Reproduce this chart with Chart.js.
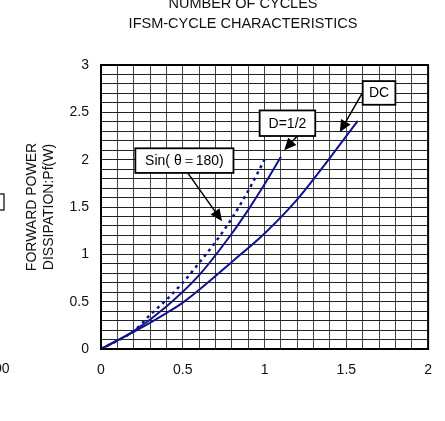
<!DOCTYPE html>
<html>
<head>
<meta charset="utf-8">
<script src="https://cdn.jsdelivr.net/npm/chart.js@4"></script>
<style>
html,body{margin:0;padding:0;background:#fff;}
#wrap{width:445px;height:421px;position:relative;}
</style>
</head>
<body>
<div id="wrap"><canvas id="c" width="445" height="421"></canvas></div>
<script>
// ---- data ----
const titleLines = ["NUMBER OF CYCLES", "IFSM-CYCLE CHARACTERISTICS"];
const yLabelLines = ["FORWARD POWER", "DISSIPATION:Pf(W)"];
const xTickLabels = ["0", "0.5", "1", "1.5", "2"];
const yTickLabels = ["0", "0.5", "1", "1.5", "2", "2.5", "3"];

const dcX = [0, 0.2, 0.4, 0.5, 0.8, 1.0, 1.2, 1.4, 1.57];
const dcY = [0, 0.18, 0.38, 0.49, 0.92, 1.22, 1.58, 2.02, 2.41];

const halfX = [0, 0.2, 0.4, 0.6, 0.8, 0.9, 1.0, 1.1];
const halfY = [0, 0.19, 0.45, 0.78, 1.22, 1.47, 1.74, 2.03];

const sinX = [0, 0.2, 0.3, 0.4, 0.5, 0.6, 0.7, 0.8, 0.9, 1.0];
const sinY = [0, 0.19, 0.36, 0.52, 0.70, 0.91, 1.13, 1.38, 1.67, 2.0];

// annotation labels: text, box corners (data units), arrow from/to (data units)
const notes = [
  { text: "Sin( θ＝180)", x1: 0.21, y1: 2.12, x2: 0.81, y2: 1.86, ax: 0.53, ay: 1.86, bx: 0.74, by: 1.35 },
  { text: "D=1/2",       x1: 0.97, y1: 2.52, x2: 1.31, y2: 2.25, ax: 1.20, ay: 2.25, bx: 1.12, by: 2.10 },
  { text: "DC",          x1: 1.60, y1: 2.83, x2: 1.80, y2: 2.58, ax: 1.60, ay: 2.71, bx: 1.46, by: 2.29 }
];

const pts = (xs, ys) => xs.map((x, i) => ({ x: x, y: ys[i] }));
const FONT = "'Liberation Sans', Arial, sans-serif";
const NAVY = "#10148c";

const decor = {
  id: "decor",
  afterDatasetsDraw(chart) {
    const { ctx, scales: { x, y } } = chart;
    ctx.save();
    notes.forEach(n => {
      const ax = x.getPixelForValue(n.ax), ay = y.getPixelForValue(n.ay);
      const bx = x.getPixelForValue(n.bx), by = y.getPixelForValue(n.by);
      const ang = Math.atan2(by - ay, bx - ax);
      const hl = 12, hw = 5.5;
      ctx.strokeStyle = "#000"; ctx.lineWidth = 1.5;
      ctx.beginPath();
      ctx.moveTo(ax, ay);
      ctx.lineTo(bx - Math.cos(ang) * hl * 0.8, by - Math.sin(ang) * hl * 0.8);
      ctx.stroke();
      ctx.fillStyle = "#000";
      ctx.beginPath();
      ctx.moveTo(bx, by);
      ctx.lineTo(bx - Math.cos(ang) * hl - Math.sin(ang) * hw, by - Math.sin(ang) * hl + Math.cos(ang) * hw);
      ctx.lineTo(bx - Math.cos(ang) * hl + Math.sin(ang) * hw, by - Math.sin(ang) * hl - Math.cos(ang) * hw);
      ctx.closePath();
      ctx.fill();
      const px1 = x.getPixelForValue(n.x1), py1 = y.getPixelForValue(n.y1);
      const px2 = x.getPixelForValue(n.x2), py2 = y.getPixelForValue(n.y2);
      ctx.fillStyle = "#fff";
      ctx.fillRect(px1, py1, px2 - px1, py2 - py1);
      ctx.lineWidth = 1.8;
      ctx.strokeStyle = "#000";
      ctx.strokeRect(px1, py1, px2 - px1, py2 - py1);
      ctx.fillStyle = "#000";
      ctx.font = "14px " + FONT;
      ctx.textAlign = "center"; ctx.textBaseline = "middle";
      ctx.fillText(n.text, (px1 + px2) / 2, (py1 + py2) / 2 + 0.5);
    });
    ctx.restore();
  },
  afterDraw(chart) {
    const { ctx, chartArea: a } = chart;
    ctx.save();
    ctx.strokeStyle = "#000"; ctx.lineWidth = 2;
    ctx.strokeRect(a.left, a.top, a.right - a.left, a.bottom - a.top);
    ctx.fillStyle = "#111";
    ctx.font = "14.5px " + FONT;
    ctx.textAlign = "center"; ctx.textBaseline = "middle";
    ctx.fillText(titleLines[0], 243, 4);
    ctx.fillText(titleLines[1], 243, 24);
    // fragments from neighbouring chart
    ctx.font = "14px " + FONT;
    ctx.textAlign = "right";
    ctx.fillText("100", 9.5, 369);
    ctx.lineWidth = 1.2; ctx.strokeStyle = "#000";
    ctx.strokeRect(-20, 194, 24, 16);
    ctx.restore();
  }
};

new Chart(document.getElementById("c"), {
  type: "scatter",
  data: {
    datasets: [
      { label: "DC", data: pts(dcX, dcY), showLine: true, borderColor: NAVY, borderWidth: 2, pointRadius: 0, cubicInterpolationMode: "monotone" },
      { label: "D=1/2", data: pts(halfX, halfY), showLine: true, borderColor: NAVY, borderWidth: 2, pointRadius: 0, cubicInterpolationMode: "monotone" },
      { label: "Sin", data: pts(sinX, sinY), showLine: true, borderColor: NAVY, borderWidth: 2.5, borderDash: [3, 4], pointRadius: 0, cubicInterpolationMode: "monotone" }
    ]
  },
  options: {
    responsive: false,
    animation: false,
    devicePixelRatio: 1,
    layout: { padding: { left: 0, top: 65, right: 10, bottom: 0 } },
    plugins: { legend: { display: false }, tooltip: { enabled: false }, title: { display: false } },
    scales: {
      x: {
        type: "linear", min: 0, max: 2,
        afterFit: s => { s.height = 72; },
        afterBuildTicks: s => { s.ticks = Array.from({ length: 21 }, (_, i) => ({ value: i / 10 })); },
        ticks: {
          autoSkip: false, maxRotation: 0, minRotation: 0, padding: 13, color: "#111",
          font: { size: 14, family: FONT },
          callback: v => { const k = Math.round(v * 10); return k % 5 === 0 ? xTickLabels[k / 5] : ""; }
        },
        grid: { color: "#444", lineWidth: 1, drawTicks: false },
        border: { display: true, color: "#000", width: 2 }
      },
      y: {
        type: "linear", min: 0, max: 3,
        afterFit: s => { s.width = 101; },
        afterBuildTicks: s => { s.ticks = Array.from({ length: 31 }, (_, i) => ({ value: i / 10 })); },
        title: {
          display: true, text: yLabelLines, color: "#111",
          font: { size: 14, family: FONT, lineHeight: 1.2 },
          padding: { top: 24, bottom: 0 }
        },
        ticks: {
          autoSkip: false, maxRotation: 0, minRotation: 0, padding: 12, color: "#111",
          font: { size: 14, family: FONT },
          callback: v => { const k = Math.round(v * 10); return k % 5 === 0 ? yTickLabels[k / 5] : ""; }
        },
        grid: { color: "#222", lineWidth: 1, drawTicks: false },
        border: { display: true, color: "#000", width: 2 }
      }
    }
  },
  plugins: [decor]
});
</script>
</body>
</html>
